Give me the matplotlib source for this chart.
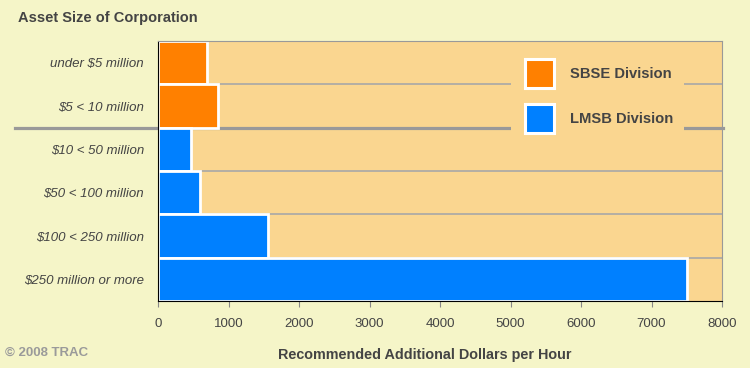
import matplotlib.pyplot as plt
from matplotlib.patches import Rectangle
from matplotlib.transforms import blended_transform_factory

plt.rcParams['font.family'] = ['Liberation Sans', 'DejaVu Sans']

categories = ['under $5 million', '$5 < 10 million', '$10 < 50 million',
              '$50 < 100 million', '$100 < 250 million', '$250 million or more']
values = [700, 850, 470, 600, 1560, 7500]
division = ['SBSE', 'SBSE', 'LMSB', 'LMSB', 'LMSB', 'LMSB']
legend_labels = ['SBSE Division', 'LMSB Division']
xticks = [0, 1000, 2000, 3000, 4000, 5000, 6000, 7000, 8000]

bg = '#f5f5c8'
plot_bg = '#fad690'
colors = {'SBSE': '#ff8000', 'LMSB': '#0080ff'}
text_col = '#444444'

fig = plt.figure(figsize=(7.5, 3.68), dpi=100, facecolor=bg)
L, R, T, B = 158, 722, 41, 301
ax = fig.add_axes([L / 750, 1 - B / 368, (R - L) / 750, (B - T) / 368])
ax.set_facecolor(plot_bg)


def ax_xy(px, py):
    # pixel position -> axes fraction
    return (px - L) / (R - L), (B - py) / (B - T)


ypos = list(range(len(categories)))
ax.barh(ypos, values, height=1.0, color=[colors[d] for d in division],
        edgecolor='white', linewidth=2, zorder=3)

# row separators
for b in [0.5, 2.5, 3.5, 4.5]:
    ax.axhline(b, color='#a8a8a8', lw=1.2, zorder=1)

# thick divider between divisions, extending past the axes
tr = blended_transform_factory(ax.transAxes, ax.transData)
ax.plot([ax_xy(15, 0)[0], ax_xy(723, 0)[0]], [1.5, 1.5], color='#999999', lw=2.3,
        transform=tr, clip_on=False, zorder=2)

ax.set_xlim(0, 8000)
ax.set_ylim(5.5, -0.5)
ax.set_xticks(xticks)
ax.set_xticklabels([str(t) for t in xticks], fontsize=9.5, color=text_col)
ax.set_yticks(ypos)
ax.set_yticklabels(categories, fontsize=9.5, style='italic', color=text_col)
ax.tick_params(axis='y', length=0, pad=10)
ax.tick_params(axis='x', length=4, color='#888888', pad=8)

ax.spines['left'].set_color('black')
ax.spines['bottom'].set_color('black')
ax.spines['top'].set_color('#999999')
ax.spines['right'].set_color('#999999')
for s in ax.spines.values():
    s.set_zorder(5)

# legend block, drawn by hand so it blanks the grid lines behind it
x0, y0 = ax_xy(511, 148)
x1, y1 = ax_xy(684, 45)
ax.add_patch(Rectangle((x0, y0), x1 - x0, y1 - y0, transform=ax.transAxes,
                       facecolor=plot_bg, edgecolor='none', zorder=2.5))
for i, (key, lab) in enumerate(zip(['SBSE', 'LMSB'], legend_labels)):
    top = 59 + i * 45
    sx, sy = ax_xy(525, top + 29)
    sx2, sy2 = ax_xy(554, top)
    ax.add_patch(Rectangle((sx, sy), sx2 - sx, sy2 - sy, transform=ax.transAxes,
                           facecolor=colors[key], edgecolor='white', lw=2.2, zorder=4))
    tx, ty = ax_xy(570, top + 15)
    ax.text(tx, ty, lab, transform=ax.transAxes, fontsize=10.6, fontweight='bold',
            color=text_col, va='center', ha='left', zorder=4)

fig.text(18 / 750, 1 - 18 / 368, 'Asset Size of Corporation', fontsize=10.5,
         fontweight='bold', color=text_col, va='center', ha='left')
fig.text(425 / 750, 1 - 355 / 368, 'Recommended Additional Dollars per Hour',
         fontsize=10.4, fontweight='bold', color=text_col, va='center', ha='center')
fig.text(5 / 750, 1 - 353 / 368, '\u00a9 2008 TRAC', fontsize=9.5,
         fontweight='bold', color='#9a9a9a', va='center', ha='left')

fig.savefig('out.png', dpi=100, facecolor=bg)
